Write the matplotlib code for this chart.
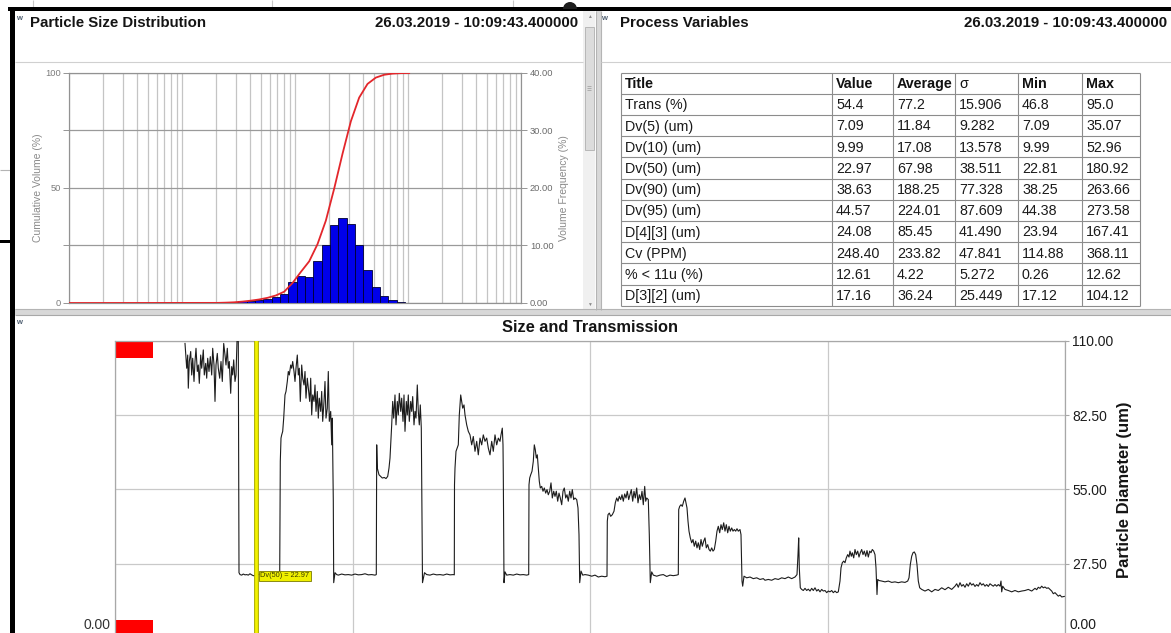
import numpy as np
import matplotlib
matplotlib.use("Agg")
import matplotlib.pyplot as plt
from matplotlib.patches import Rectangle, Wedge
from matplotlib.ticker import LogLocator, NullFormatter

plt.rcParams['font.family'] = ['Liberation Sans', 'DejaVu Sans']

# ---------------------------------------------------------------- data
timestamp = "26.03.2019 - 10:09:43.400000"

# Size classes (log spaced) and volume frequency per class, %
size_lo_um, size_hi_um, n_classes = 1.894, 111.5, 24
vol_freq = [0.05, 0.1, 0.15, 0.3, 0.4, 0.5, 0.7, 1.0, 1.6, 3.7, 4.7, 4.5,
            7.3, 10.0, 13.6, 14.8, 13.8, 10.1, 5.8, 2.7, 1.2, 0.5, 0.2, 0.05]

# Process variables table
table_header = ["Title", "Value", "Average", "\u03c3", "Min", "Max"]
row_titles = ["Trans (%)", "Dv(5) (um)", "Dv(10) (um)", "Dv(50) (um)", "Dv(90) (um)",
              "Dv(95) (um)", "D[4][3] (um)", "Cv (PPM)", "% < 11u (%)", "D[3][2] (um)"]
col_value = ["54.4", "7.09", "9.99", "22.97", "38.63", "44.57", "24.08", "248.40", "12.61", "17.16"]
col_average = ["77.2", "11.84", "17.08", "67.98", "188.25", "224.01", "85.45", "233.82", "4.22", "36.24"]
col_sigma = ["15.906", "9.282", "13.578", "38.511", "77.328", "87.609", "41.490", "47.841", "5.272", "25.449"]
col_min = ["46.8", "7.09", "9.99", "22.81", "38.25", "44.38", "23.94", "114.88", "0.26", "17.12"]
col_max = ["95.0", "35.07", "52.96", "180.92", "263.66", "273.58", "167.41", "368.11", "12.62", "104.12"]

# Size trend axis
diameter_ticks = [0, 27.5, 55, 82.5, 110]

# Size trend: Dv(50) in um against time in s
cursor_t = 141.0
cursor_dv50 = 22.97
dv50_trace = [
    (70, 109.1), (71.7, 99.9), (72.7, 104.8), (73.3, 92.5), (74.3, 102.4), (75.7, 106.1),
    (76.7, 97.4), (77.7, 103.6), (79, 95.0), (80, 102.4), (81, 107.3), (82.3, 98.7),
    (83.3, 101.1), (84.3, 94.3), (85.7, 104.8), (86.7, 99.9), (88.3, 106.7), (89.3, 97.4),
    (90.7, 101.7), (91.7, 96.2), (92.7, 103.6), (94, 98.7), (95.3, 104.2), (96.7, 97.4),
    (97.7, 107.3), (99, 101.1), (100, 87.6), (101, 101.1), (102.3, 105.4), (103.3, 99.9),
    (104.7, 96.2), (106, 102.4), (107.3, 95.0), (108.7, 109.1), (110, 104.8), (111, 101.1),
    (112.3, 107.3), (113.3, 99.9), (114.3, 102.4), (115.7, 90.6), (116.7, 100.5), (117.7, 97.4),
    (118.7, 103.0), (120, 95.0), (121, 97.4), (122, 110), (123.3, 110), (124, 24.1),
    (125, 23.4), (126.7, 23.2), (128.3, 23.6), (130, 23.3), (131.7, 23.4), (133.3, 23.2),
    (135, 23.7), (136.7, 23.3), (138.3, 23.0), (cursor_t, cursor_dv50), (143.3, 23.4),
    (145, 23.6), (146.7, 23.3), (150, 23.4), (153.3, 23.2), (156.7, 23.6), (160, 23.3),
    (163.3, 23.4), (164.7, 23.3),
    (165.3, 65.4), (166, 74.0), (166.7, 75.2), (167.7, 76.5), (168.7, 81.4), (170, 90.0),
    (171, 91.3), (172.3, 95.0), (173.3, 98.7), (174.3, 97.4), (175.7, 101.1), (176.7, 99.9),
    (177.7, 102.4), (179, 98.7), (180, 95.0), (181, 99.9), (182.3, 104.8), (183.3, 97.4),
    (184.3, 99.9), (185.3, 87.6), (186.7, 101.1), (187.7, 96.2), (189, 93.7), (190, 98.7),
    (191, 88.8), (192.3, 96.2), (193.3, 92.5), (194.7, 87.6), (195.7, 96.2), (196.7, 82.6),
    (197.7, 90.0), (199, 87.6), (200, 93.7), (201, 83.9), (202.3, 91.3), (203.3, 81.4),
    (204.3, 88.8), (205.7, 83.9), (206.7, 91.3), (207.7, 80.2), (209, 87.6), (210, 95.0),
    (211, 81.4), (212.3, 85.1), (213.3, 98.7), (214.3, 80.2), (215.7, 83.9), (216.7, 71.5),
    (217.3, 81.4), (218.3, 50.6), (218.7, 20.4), (220, 24.1),
    (221.7, 23.4), (223.3, 23.2), (226.7, 23.6), (230, 23.3), (233.3, 23.4), (236.7, 23.2),
    (240, 23.6), (243.3, 23.3), (246.7, 23.4), (250, 23.7), (253.3, 23.3), (256.7, 23.4),
    (260, 23.2), (261.3, 23.4),
    (261.7, 71.5), (262.3, 62.9), (264, 60.4), (265.7, 59.8), (267.3, 59.2), (269.3, 59.4),
    (271, 59.0), (272.7, 59.8), (274, 62.9), (275, 66.6), (276.7, 78.9), (277.7, 87.6),
    (278.7, 81.4), (280, 90.0), (281, 78.9), (282.3, 87.6), (283.3, 82.6), (284.3, 90.6),
    (285.7, 83.9), (286.7, 88.8), (288, 80.2), (289, 90.0), (290, 76.5), (291.3, 87.6),
    (292.3, 82.6), (293.3, 90.0), (294.3, 80.2), (295.7, 87.6), (296.7, 83.9), (297.7, 89.4),
    (299, 78.9), (300, 83.9), (301, 81.4), (302.3, 93.7), (303.3, 83.9), (304.3, 78.9),
    (305.3, 86.3), (306.3, 77.7), (307.5, 20.4), (309.5, 24.1),
    (311.7, 23.4), (315, 23.2), (318.3, 23.6), (321.7, 23.3), (325, 23.4), (328.3, 23.2),
    (331.7, 23.6), (335, 23.3), (338.3, 23.4), (339.3, 23.3),
    (339.5, 56.7), (340, 62.9), (341, 69.1), (343.3, 71.5), (344.3, 82.6), (345.7, 90.0),
    (346.7, 87.6), (347.7, 85.1), (349, 86.3), (350, 82.6), (351.7, 78.9), (353.3, 76.5),
    (355, 75.2), (356.7, 71.5), (358.3, 74.6), (360, 69.1), (361.7, 72.8), (363.3, 67.8),
    (365, 74.0), (366.7, 71.5), (368.3, 75.2), (370, 72.8), (371.7, 74.0), (373.3, 70.3),
    (375, 67.8), (376.7, 72.8), (378.3, 69.1), (380, 75.2), (381.7, 71.5), (383.3, 74.0),
    (385, 72.8), (386, 75.2), (387.3, 77.7), (388, 71.5), (388.3, 60.4), (389, 20.4),
    (390, 24.4), (391.7, 23.2), (395, 23.4), (398.3, 23.2), (401.7, 23.6), (405, 23.3),
    (408.3, 23.4), (411.7, 23.2), (413.7, 23.4),
    (414, 56.7), (414.7, 59.2), (415.7, 60.4), (417, 61.7), (418.3, 65.4), (419.3, 71.5),
    (420.3, 69.7), (421.3, 66.6), (422.3, 67.8), (423.3, 62.9), (424.3, 58.0), (425.3, 55.5),
    (426.7, 56.1), (428, 54.3), (429.3, 55.5), (430.7, 53.6), (432, 54.9), (433.3, 53.0),
    (434.7, 54.3), (436, 57.4), (437.3, 51.8), (438.7, 54.3), (440, 52.4), (441.3, 54.3),
    (442.7, 50.6), (444, 53.6), (445.3, 51.8), (446.7, 49.3), (448, 54.3), (449.3, 55.5),
    (450.7, 51.8), (452, 53.0), (453.3, 50.6), (454.7, 54.3), (456, 51.8), (457.3, 54.9),
    (458.7, 51.2), (460, 51.8), (461.7, 51.2), (463, 48.1), (464, 38.2), (464.7, 20.4),
    (466, 24.7), (467.7, 23.2), (470, 23.4), (473.3, 23.2), (476.7, 22.8), (480, 23.2),
    (483.3, 22.5), (486.7, 22.8), (490, 22.6), (492, 22.8),
    (492.3, 43.2), (493, 45.6), (494.3, 46.2), (495.7, 45.0), (497.3, 45.6), (499, 46.9),
    (500.3, 50.0), (501.7, 51.8), (503, 50.6), (504.3, 52.4), (505.7, 51.2), (507, 53.0),
    (508.3, 50.6), (509.7, 53.3), (511, 51.8), (512.3, 54.3), (513.7, 51.2), (515, 53.0),
    (516.3, 54.9), (517.7, 50.6), (519, 54.3), (520.3, 51.8), (521.7, 55.5), (523, 50.0),
    (524.3, 53.0), (525.7, 51.2), (527, 54.3), (528.3, 49.3), (529.7, 56.1), (530.7, 50.6),
    (531.7, 51.8), (533.3, 51.2), (534.3, 38.2), (535.3, 20.4),
    (536.7, 24.4), (538.3, 23.2), (541.7, 22.8), (545, 23.2), (548.3, 23.4), (551.7, 22.7),
    (555, 23.2), (558.3, 23.0), (561.7, 23.2), (563.3, 23.4),
    (563.7, 47.5), (564.7, 48.7), (566, 49.3), (567.3, 48.7), (568.7, 50.6), (570, 51.8),
    (571, 50.0), (572, 48.1), (573, 43.2), (574, 39.5), (575.3, 37.0), (576.7, 35.2),
    (578, 36.4), (579.3, 33.9), (580.7, 35.8), (582, 33.3), (583.3, 35.2), (584.7, 32.7),
    (586, 36.4), (587.3, 33.9), (588.7, 35.8), (590, 37.0), (591.3, 33.3), (592.7, 34.5),
    (594, 32.7), (595.3, 32.1), (596.7, 33.3), (598, 32.1), (599.3, 32.7), (600.7, 35.8),
    (602, 39.5), (603.3, 41.3), (604.7, 38.9), (606, 41.9), (607.3, 40.1), (608.7, 42.6),
    (610, 39.5), (611.3, 41.9), (612.7, 38.9), (614, 41.3), (615.3, 39.5), (616.7, 40.7),
    (618, 39.5), (619.3, 40.1), (620.7, 39.5), (622, 40.4), (623.3, 39.5), (625, 40.1),
    (626, 38.2), (627, 21.0), (627.7, 19.1),
    (629, 22.8), (631.7, 22.2), (635, 22.5), (638.3, 21.9), (641.7, 22.2), (645, 21.6),
    (648.3, 21.9), (650, 21.3), (653.3, 21.6), (656.7, 21.3), (660, 21.9), (663.3, 21.6),
    (666.7, 22.2), (670, 21.9), (673.3, 22.5), (676.7, 21.9), (680, 22.5), (682, 23.4),
    (683, 30.8), (683.7, 37.0), (684.3, 25.9), (685.3, 18.5),
    (686.7, 17.9), (688.3, 17.5), (690, 18.3), (691.7, 17.5), (693.3, 18.0), (695, 17.3),
    (696.7, 18.3), (698.3, 17.5), (700, 18.5), (701.7, 17.3), (703.3, 17.9), (705, 17.0),
    (706.7, 17.9), (708.3, 17.3), (710, 17.5), (711.7, 16.7), (713.3, 17.3), (715, 17.0),
    (716.7, 17.5), (718.3, 16.7), (720, 17.3), (721.7, 16.7), (723.3, 17.0),
    (725, 21.0), (726, 25.9), (727.3, 27.8), (728.7, 28.4), (730, 27.8), (731.3, 29.6),
    (732.7, 30.8), (734, 29.9), (735, 32.1), (736.3, 30.2), (737.3, 31.5), (738.7, 29.6),
    (740, 32.7), (741.3, 30.8), (742.7, 32.1), (744, 29.9), (745.3, 31.5), (746.7, 32.7),
    (748, 30.8), (749.3, 32.1), (750.7, 30.2), (752, 32.3), (753.3, 29.9), (754.7, 32.1),
    (756, 31.5), (757.3, 32.7), (758.7, 32.1), (760, 30.8), (761, 25.9), (762, 16.0),
    (762.7, 21.6),
    (764, 21.2), (766.7, 21.0), (770, 20.7), (773.3, 21.0), (776.7, 20.5), (780, 20.7),
    (783.3, 20.4), (786.7, 20.7), (790, 20.5), (792.7, 21.0), (794, 22.2),
    (795.3, 27.1), (796.7, 30.2), (798, 31.5), (799.3, 31.8), (800.7, 30.8), (802, 27.1),
    (803.3, 21.0), (804.7, 18.5),
    (806.7, 17.9), (810, 17.3), (813.3, 17.9), (816.7, 17.0), (820, 17.9), (823.3, 17.5),
    (826.7, 18.5), (830, 17.8), (833.3, 18.7), (836.7, 17.9), (840, 19.1), (841.7, 20.0),
    (843.3, 18.7), (845, 20.4), (846.7, 19.1), (848.3, 19.7), (850, 18.7), (851.7, 20.0),
    (853.3, 19.1), (855, 20.4), (856.7, 19.5), (858.3, 20.0), (860, 19.0), (861.7, 19.7),
    (863.3, 19.1), (865, 20.4), (866.7, 19.5), (868.3, 20.0), (870, 19.1), (871.7, 19.7),
    (873.3, 19.0), (875, 20.0), (876.7, 19.5), (878.3, 19.1), (880, 19.7), (881.7, 19.1),
    (883.3, 19.7), (885, 19.1), (886, 21.0), (886.7, 17.0), (887.7, 19.1), (890, 17.9),
    (893.3, 17.5), (896.7, 17.0), (900, 17.5), (903.3, 17.0), (906.7, 17.3), (910, 17.5),
    (913.3, 17.9), (916.7, 17.3), (920, 18.3), (921.7, 17.8), (923.3, 18.7), (925, 18.3),
    (926.7, 19.1), (928.3, 18.5), (930, 18.8), (931.7, 18.3), (933.3, 18.5), (935, 17.9),
    (936.7, 17.3), (938.3, 16.3), (940, 16.7), (941.7, 16.0), (943.3, 15.4), (945, 15.8),
    (946.7, 15.1), (949.3, 15.3),
]

# ---------------------------------------------------------------- figure
W, H = 1171, 633
fig = plt.figure(figsize=(W / 100, H / 100), dpi=100)


def px_axes(x0, y0, x1, y1):
    """Axes placed by pixel box (y measured from the top)."""
    return fig.add_axes([x0 / W, 1 - y1 / H, (x1 - x0) / W, (y1 - y0) / H])


# Window chrome drawn in pixel coordinates
bg = px_axes(0, 0, W, H)
bg.set_xlim(0, W)
bg.set_ylim(H, 0)
bg.axis('off')


def box(x, y, w, h, fc, ec='none', lw=0.0, z=1):
    bg.add_patch(Rectangle((x, y), w, h, fc=fc, ec=ec, lw=lw, zorder=z))


def hline(y, x0, x1, c, lw=0.8, z=2):
    bg.plot([x0, x1], [y, y], color=c, lw=lw, solid_capstyle='butt', zorder=z)


def vline(x, y0, y1, c, lw=0.8, z=2):
    bg.plot([x, x], [y0, y1], color=c, lw=lw, solid_capstyle='butt', zorder=z)


# desktop behind the windows
for x in (33, 272, 513):
    vline(x, 0, 7, '#c8c8c8')
hline(170, 0, 10, '#b4b4b4')
box(0, 240, 13, 3, 'black', z=3)

# outer window border
box(8, 7, W - 8, 4, 'black', z=3)
box(10, 7, 5, H - 7, 'black', z=3)
bg.add_patch(Wedge((570, 9), 7, 180, 360, fc='#1e1e1e', zorder=3))

# panel separators
box(596, 11, 5, 299, '#d8d8d8')
vline(596, 11, 310, '#b4b4b4')
vline(601, 11, 310, '#b4b4b4')
box(15, 309, W - 15, 6, '#d8d8d8')
hline(309, 15, W, '#b4b4b4')
hline(315, 15, W, '#a8a8a8')
hline(62, 15, 583, '#d0d0d0')
hline(62, 601, W, '#d0d0d0')

# scroll bar of the distribution panel
box(583, 11, 12, 298, '#f0f0f0')
box(584.5, 27, 9, 123, '#dcdcdc', ec='#b0b0b0', lw=0.6, z=2)
for y in (86, 88, 90):
    hline(y, 587, 591, '#9a9a9a', lw=0.5, z=3)
bg.text(589, 17, '\u25b2', fontsize=3.5, color='#8a8a8a', ha='center', va='center')
bg.text(589, 304, '\u25bc', fontsize=3.5, color='#8a8a8a', ha='center', va='center')

# panel icons
for (x, y) in ((19, 18), (604, 18), (19, 322)):
    bg.text(x, y, 'w', fontsize=5.5, fontweight='bold', color='#4e5e70', ha='center', va='center')

# panel titles
title_kw = dict(fontsize=10.8, fontweight='bold', color='#141414', va='baseline')
bg.text(30, 27, "Particle Size Distribution", **title_kw)
bg.text(578, 27, timestamp, ha='right', **title_kw)
bg.text(620, 27, "Process Variables", **title_kw)
bg.text(1167, 27, timestamp, ha='right', **title_kw)
bg.text(590, 332, "Size and Transmission", ha='center', fontsize=11.8,
        fontweight='bold', color='#141414', va='baseline')

# ---------------------------------------------------------------- table
col_x = [621, 832, 893, 955, 1018, 1082, 1140]
row_top, row_h = 72.5, 21.2
columns = [row_titles, col_value, col_average, col_sigma, col_min, col_max]
n_rows = len(row_titles) + 1
for i in range(n_rows + 1):
    hline(row_top + i * row_h, col_x[0], col_x[-1], '#8c8c8c')
for x in col_x:
    vline(x, row_top, row_top + n_rows * row_h, '#8c8c8c')
for j, head in enumerate(table_header):
    bg.text(col_x[j] + 4, row_top + 0.5 * row_h + 5, head, fontsize=10.3,
            fontweight='bold' if j != 3 else 'normal', color='#111111', va='baseline')
for j, col in enumerate(columns):
    for i, cell in enumerate(col):
        bg.text(col_x[j] + 4, row_top + (i + 1.5) * row_h + 5, cell, fontsize=10.3,
                color='#1a1a1a', va='baseline')

# ---------------------------------------------------------------- particle size distribution
edges = np.geomspace(size_lo_um, size_hi_um, n_classes + 1)
centres = np.sqrt(edges[:-1] * edges[1:])
freq = np.asarray(vol_freq)
cumulative = np.cumsum(freq) / freq.sum() * 100

ax_h = px_axes(69, 73, 521, 303)
ax_h.set_xscale('log')
ax_h.set_xlim(0.1, 1000)
ax_h.set_ylim(0, 100)
ax_h.xaxis.set_major_locator(LogLocator(base=10, numticks=12))
ax_h.xaxis.set_minor_locator(LogLocator(base=10, subs=np.arange(2, 10), numticks=60))
ax_h.xaxis.set_minor_formatter(NullFormatter())
ax_h.set_axisbelow(True)
ax_h.grid(axis='x', which='both', color='#c4c4c4', lw=0.9)
ax_h.grid(axis='y', which='major', color='#9a9a9a', lw=0.9)
ax_h.set_yticks([0, 25, 50, 75, 100])
ax_h.set_yticklabels(['0', '', '50', '', '100'])
ax_h.tick_params(axis='x', which='both', length=0, labelbottom=False)
ax_h.tick_params(axis='y', length=4, width=0.7, color='#959595', labelsize=6.7,
                 labelcolor='#7c7c7c', pad=1.5)

ax_f = ax_h.twinx()
ax_f.set_ylim(0, 40)
ax_f.bar(edges[:-1], freq, width=np.diff(edges), align='edge',
         color='#0000ea', edgecolor='#000030', lw=0.6)
ax_f.set_yticks([0, 10, 20, 30, 40])
ax_f.set_yticklabels([f"{v:.2f}" for v in (0, 10, 20, 30, 40)])
ax_f.tick_params(axis='y', length=4, width=0.7, color='#959595', labelsize=6.7,
                 labelcolor='#6a6a6a', pad=2.5)

ax_c = ax_h.twinx()
ax_c.set_ylim(0, 100)
ax_c.plot(np.r_[0.1, centres], np.r_[0.0, cumulative], color='#e3262b', lw=1.3)
ax_c.axis('off')

for a in (ax_h, ax_f):
    for s in a.spines.values():
        s.set_color('#929292')
        s.set_linewidth(0.8)

bg.text(38, 188, 'Cumulative Volume (%)', rotation=90, fontsize=7.5, color='#8a8a8a',
        ha='center', va='center')
bg.text(564, 188, 'Volume Frequency (%)', rotation=90, fontsize=7.5, color='#8a8a8a',
        ha='center', va='center')

# ---------------------------------------------------------------- size and transmission
ax = px_axes(115, 341, 1065, 637.7)
ax.set_xlim(0, 950)
ax.set_ylim(0, 110)
ax.set_xticks(np.linspace(0, 950, 5))
ax.tick_params(axis='x', length=0, labelbottom=False)
ax.yaxis.tick_right()
ax.set_yticks(diameter_ticks)
# the zero label sits right at the lower window edge, so it is placed separately below
ax.set_yticklabels([''] + [f"{v:.2f}" for v in diameter_ticks[1:]])
ax.tick_params(axis='y', length=3, color='#a6a6a6', labelsize=10, labelcolor='#1c1c1c', pad=2)
ax.set_axisbelow(True)
ax.grid(color='#c9c9c9', lw=0.9)
for s in ax.spines.values():
    s.set_color('#a8a8a8')
    s.set_linewidth(0.9)

# transmission alarm markers
ax.add_patch(Rectangle((0, 0.9427), 0.04, 0.0573, transform=ax.transAxes,
                       fc='#ff0000', ec='none', zorder=2))
ax.add_patch(Rectangle((0, 0.0), 0.04, 0.0597, transform=ax.transAxes,
                       fc='#ff0000', ec='none', zorder=2))

trace_t, trace_d = zip(*dv50_trace)
ax.plot(trace_t, trace_d, color='#1c1c1c', lw=0.8, zorder=3)

ax.axvline(cursor_t, color='#acac00', lw=3.5, zorder=4)
ax.axvline(cursor_t, color='#f2f200', lw=2.0, zorder=4)
ax.annotate(f"Dv(50) = {cursor_dv50:.2f}", xy=(cursor_t, cursor_dv50),
            xytext=(3.2, 0), textcoords='offset points', fontsize=5.3, color='#3a3a00',
            ha='left', va='center', zorder=5,
            bbox=dict(boxstyle='square,pad=0.2', fc='#f0f000', ec='#7a7a00', lw=0.6))

bg.text(110, 632, f"{diameter_ticks[0]:.2f}", ha='right', va='bottom',
        fontsize=10, color='#333333')
bg.text(1070, 632, f"{diameter_ticks[0]:.2f}", ha='left', va='bottom',
        fontsize=10, color='#1c1c1c')
bg.text(1125, 490, 'Particle Diameter (um)', rotation=90, fontsize=12, fontweight='bold',
        color='#141414', ha='center', va='center')

fig.savefig('out.png', dpi=100)
